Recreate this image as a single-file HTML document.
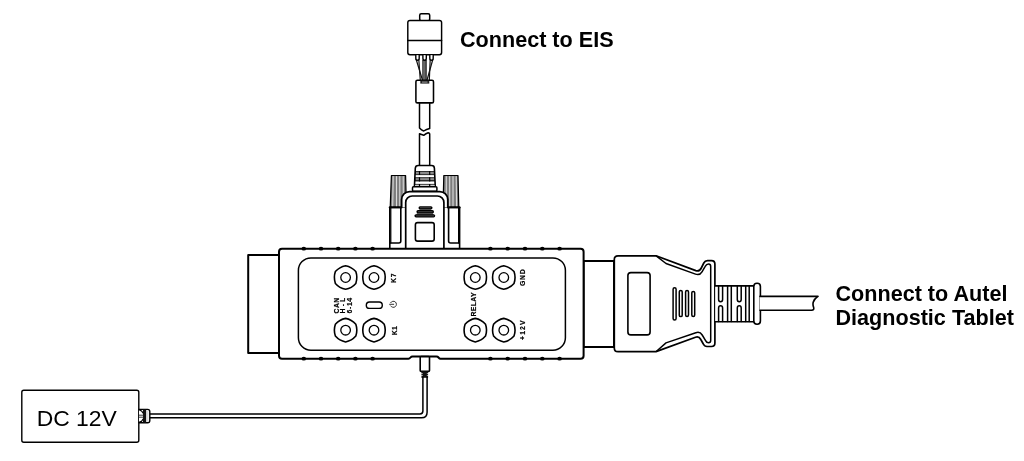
<!DOCTYPE html>
<html><head><meta charset="utf-8">
<style>
html,body{margin:0;padding:0;background:#fff;width:1024px;height:461px;overflow:hidden}
svg{display:block;will-change:transform}
text{font-family:"Liberation Sans",sans-serif}
</style></head>
<body>
<svg width="1024" height="461" viewBox="0 0 1024 461">
<g fill="none" stroke="#000" stroke-linejoin="round" stroke-linecap="round">

<!-- ===== EIS connector (top) ===== -->
<rect x="419.7" y="13.8" width="10" height="7" rx="1.5" stroke-width="1.5" fill="#fff"/>
<rect x="407.8" y="20.4" width="33.8" height="34.3" rx="2.2" stroke-width="1.45" fill="#fff"/>
<line x1="407.8" y1="40.5" x2="441.6" y2="40.5" stroke-width="1.45"/>
<!-- pins -->
<rect x="423.2" y="60" width="3" height="20.5" fill="#666" stroke="#000" stroke-width="0.9"/>
<g stroke-width="1.2" stroke="#111">
<path d="M416.2 59.5 L422.6 80.5"/><path d="M418.8 59.5 L420.3 80.5"/>
<path d="M432.8 59.5 L426.9 80.5"/><path d="M430.2 59.5 L429.3 80.5"/>
</g>
<g stroke-width="1.4" fill="#fff">
<path d="M415.8 55.2 V58.2 Q415.8 60.2 417.5 60.2 Q419.2 60.2 419.2 58.2 V55.2"/>
<path d="M422.9 55.2 V58.2 Q422.9 60.2 424.6 60.2 Q426.3 60.2 426.3 58.2 V55.2"/>
<path d="M429.8 55.2 V58.2 Q429.8 60.2 431.5 60.2 Q433.2 60.2 433.2 58.2 V55.2"/>
</g>
<!-- ferrule -->
<rect x="415.9" y="80.2" width="17.6" height="22.7" rx="1.5" stroke-width="1.55" fill="#fff"/>
<rect x="420.3" y="80.6" width="9" height="3" fill="#222" stroke="none"/><rect x="422" y="81.5" width="5.5" height="1.2" fill="#888" stroke="none"/>
<!-- cable with break -->
<path d="M419.5 102.7 V128 Q421.5 130.2 423.7 131 Q426.5 129 429.7 128.4 V102.7" stroke-width="1.5"/>
<path d="M419.5 166 V133.8 Q421.5 134.6 423.7 135.3 Q426 133.5 428.2 132.8 Q429.5 133 429.7 134 V166" stroke-width="1.5"/>

<!-- ===== DB9 boot ===== -->
<path d="M414.4 187 L415.3 168.2 Q415.5 165.5 418.2 165.5 H431.6 Q434.3 165.5 434.4 168.2 L435.3 187 Z" stroke-width="1.6" fill="#fff"/>
<g stroke="none">
<rect x="415.2" y="171.1" width="19.4" height="4" fill="#000"/>
<rect x="416" y="171.8" width="17.8" height="2.6" fill="#8a8a8a"/>
<rect x="414.9" y="177.3" width="20" height="4.1" fill="#000"/>
<rect x="415.7" y="178.1" width="18.4" height="2.2" fill="#8a8a8a"/>
<rect x="414.6" y="183.9" width="20.6" height="0.9" fill="#000"/>
<rect x="415.4" y="184.8" width="19" height="1.4" fill="#ccc"/>
</g>
<path d="M419.5 171.1 V175.1 M429.7 171.1 V175.1 M419.5 177.3 V181.4 M429.7 177.3 V181.4 M419.5 184 V186.7 M429.7 184 V186.7" stroke-width="1.2" stroke-linecap="butt"/>
<rect x="412.5" y="186.7" width="24.4" height="4.6" rx="1" stroke-width="1.5" fill="#fff"/>

<!-- thumb screws -->
<g>
<path d="M391.4 175.5 H405.6 L406.4 207.4 H390.2 Z" fill="#7c7c7c" stroke-width="1.2"/>
<path d="M393.2 176.5 L392.7 206.5 M396.5 176.5 V206.5 M399.8 176.5 V206.5 M403.2 176.5 L403.4 206.5" stroke="#dcdcdc" stroke-width="1.1"/>
<path d="M443.8 175.5 H458 L458.8 207.4 H443 Z" fill="#7c7c7c" stroke-width="1.2"/>
<path d="M446.3 176.5 V206.5 M449.7 176.5 V206.5 M453 176.5 V206.5 M456.2 176.5 L456.6 206.5" stroke="#dcdcdc" stroke-width="1.1"/>
<!-- shanks -->
<path d="M389.8 249 V207.4 H400.8 V241 Q400.8 243 398.8 243 H390.8" stroke-width="1.6" fill="#fff"/>
<path d="M390.8 207.4 V243" stroke-width="1.2"/>
<path d="M459.6 249 V207.4 H448.6 V241 Q448.6 243 450.6 243 H458.6" stroke-width="1.6" fill="#fff"/>
<path d="M458.6 207.4 V243" stroke-width="1.2"/>
<path d="M389.6 207.4 H401.2 M448.2 207.4 H459.8" stroke-width="1.8"/>
</g>
<!-- hood -->
<path d="M401.6 207.4 V199.6 A8 8 0 0 1 409.6 191.6 H439.8 A8 8 0 0 1 447.8 199.6 V207.4" stroke-width="1.8" fill="#fff"/>
<path d="M405.7 249 V202.5 A6.5 6.5 0 0 1 412.2 196 H437.4 A6.5 6.5 0 0 1 443.9 202.5 V249" stroke-width="1.7" fill="#fff"/>
<!-- slots -->
<g stroke="none">
<path d="M420.5 208 H430.5 L432.5 212 L434 216 H415.8 L417.4 212 Z" fill="#666"/>
<rect x="418.5" y="206.2" width="14" height="3" rx="1.5" fill="#000"/>
<rect x="416.4" y="210.1" width="17.6" height="3.2" rx="1.6" fill="#000"/>
<rect x="414.4" y="214.2" width="20.8" height="3.2" rx="1.6" fill="#000"/>
<rect x="420" y="207.4" width="11" height="0.8" fill="#555"/>
<rect x="418" y="211.4" width="14.5" height="0.8" fill="#555"/>
<rect x="416" y="215.5" width="18" height="0.8" fill="#555"/>
</g>
<rect x="415.4" y="222.6" width="18.8" height="18.5" rx="2.2" stroke-width="1.6"/>

<!-- ===== main module ===== -->
<rect x="248.2" y="254.9" width="31" height="98" stroke-width="2" fill="#fff"/>
<rect x="583.6" y="260.9" width="30.4" height="86" stroke-width="2" fill="#fff"/>
<path d="M279 352 V251.7 Q279 248.7 282 248.7 H580.6 Q583.6 248.7 583.6 251.7 V355.7 Q583.6 358.7 580.6 358.7 H440.5 Q439.5 358.7 438.5 357.5 Q437.7 356.5 436.5 356.5 H412.5 Q411.3 356.5 410.5 357.5 Q409.5 358.7 408.5 358.7 H282 Q279 358.7 279 355.7 Z" stroke-width="2" fill="#fff"/>
<!-- dots -->
<g fill="#000" stroke="none">
<ellipse cx="303.8" cy="248.7" rx="2.3" ry="1.9"/><ellipse cx="321" cy="248.7" rx="2.3" ry="1.9"/><ellipse cx="338.2" cy="248.7" rx="2.3" ry="1.9"/><ellipse cx="355.4" cy="248.7" rx="2.3" ry="1.9"/><ellipse cx="372.6" cy="248.7" rx="2.3" ry="1.9"/>
<ellipse cx="490.4" cy="248.7" rx="2.3" ry="1.9"/><ellipse cx="507.7" cy="248.7" rx="2.3" ry="1.9"/><ellipse cx="525" cy="248.7" rx="2.3" ry="1.9"/><ellipse cx="542.3" cy="248.7" rx="2.3" ry="1.9"/><ellipse cx="559.6" cy="248.7" rx="2.3" ry="1.9"/>
<ellipse cx="303.8" cy="358.7" rx="2.3" ry="1.9"/><ellipse cx="321" cy="358.7" rx="2.3" ry="1.9"/><ellipse cx="338.2" cy="358.7" rx="2.3" ry="1.9"/><ellipse cx="355.4" cy="358.7" rx="2.3" ry="1.9"/><ellipse cx="372.6" cy="358.7" rx="2.3" ry="1.9"/>
<ellipse cx="490.4" cy="358.7" rx="2.3" ry="1.9"/><ellipse cx="507.7" cy="358.7" rx="2.3" ry="1.9"/><ellipse cx="525" cy="358.7" rx="2.3" ry="1.9"/><ellipse cx="542.3" cy="358.7" rx="2.3" ry="1.9"/><ellipse cx="559.6" cy="358.7" rx="2.3" ry="1.9"/>
</g>
<!-- inner panel -->
<rect x="298.4" y="257.9" width="267" height="92.3" rx="12.5" stroke-width="1.5"/>

<!-- nuts -->

<g transform="translate(345.6,277.5)"><path d="M0.00 -11.80 A18 18 0 0 1 10.22 -5.90 A18 18 0 0 1 10.22 5.90 A18 18 0 0 1 0.00 11.80 A18 18 0 0 1 -10.22 5.90 A18 18 0 0 1 -10.22 -5.90 A18 18 0 0 1 0.00 -11.80 Z" stroke-width="1.6"/>
<circle r="4.8" stroke-width="1.3"/></g>
<g transform="translate(374,277.5)"><path d="M0.00 -11.80 A18 18 0 0 1 10.22 -5.90 A18 18 0 0 1 10.22 5.90 A18 18 0 0 1 0.00 11.80 A18 18 0 0 1 -10.22 5.90 A18 18 0 0 1 -10.22 -5.90 A18 18 0 0 1 0.00 -11.80 Z" stroke-width="1.6"/>
<circle r="4.8" stroke-width="1.3"/></g>
<g transform="translate(345.6,330.2)"><path d="M0.00 -11.80 A18 18 0 0 1 10.22 -5.90 A18 18 0 0 1 10.22 5.90 A18 18 0 0 1 0.00 11.80 A18 18 0 0 1 -10.22 5.90 A18 18 0 0 1 -10.22 -5.90 A18 18 0 0 1 0.00 -11.80 Z" stroke-width="1.6"/>
<circle r="4.8" stroke-width="1.3"/></g>
<g transform="translate(374,330.2)"><path d="M0.00 -11.80 A18 18 0 0 1 10.22 -5.90 A18 18 0 0 1 10.22 5.90 A18 18 0 0 1 0.00 11.80 A18 18 0 0 1 -10.22 5.90 A18 18 0 0 1 -10.22 -5.90 A18 18 0 0 1 0.00 -11.80 Z" stroke-width="1.6"/>
<circle r="4.8" stroke-width="1.3"/></g>
<g transform="translate(475.3,277.5)"><path d="M0.00 -11.80 A18 18 0 0 1 10.22 -5.90 A18 18 0 0 1 10.22 5.90 A18 18 0 0 1 0.00 11.80 A18 18 0 0 1 -10.22 5.90 A18 18 0 0 1 -10.22 -5.90 A18 18 0 0 1 0.00 -11.80 Z" stroke-width="1.6"/>
<circle r="4.8" stroke-width="1.3"/></g>
<g transform="translate(503.8,277.5)"><path d="M0.00 -11.80 A18 18 0 0 1 10.22 -5.90 A18 18 0 0 1 10.22 5.90 A18 18 0 0 1 0.00 11.80 A18 18 0 0 1 -10.22 5.90 A18 18 0 0 1 -10.22 -5.90 A18 18 0 0 1 0.00 -11.80 Z" stroke-width="1.6"/>
<circle r="4.8" stroke-width="1.3"/></g>
<g transform="translate(475.3,330.2)"><path d="M0.00 -11.80 A18 18 0 0 1 10.22 -5.90 A18 18 0 0 1 10.22 5.90 A18 18 0 0 1 0.00 11.80 A18 18 0 0 1 -10.22 5.90 A18 18 0 0 1 -10.22 -5.90 A18 18 0 0 1 0.00 -11.80 Z" stroke-width="1.6"/>
<circle r="4.8" stroke-width="1.3"/></g>
<g transform="translate(503.8,330.2)"><path d="M0.00 -11.80 A18 18 0 0 1 10.22 -5.90 A18 18 0 0 1 10.22 5.90 A18 18 0 0 1 0.00 11.80 A18 18 0 0 1 -10.22 5.90 A18 18 0 0 1 -10.22 -5.90 A18 18 0 0 1 0.00 -11.80 Z" stroke-width="1.6"/>
<circle r="4.8" stroke-width="1.3"/></g>

<!-- LED -->
<rect x="366.3" y="302" width="16" height="6.4" rx="3.2" stroke-width="1.4"/>
<!-- power symbol -->
<path d="M390.67 302.66 A3.1 3.1 0 1 1 390.67 305.94" stroke="#333" stroke-width="1"/>
<line x1="389.60" y1="304.3" x2="393.70" y2="304.3" stroke="#333" stroke-width="1"/>

<!-- DC grommet -->
<rect x="420.2" y="356.6" width="9.3" height="14.8" rx="1" stroke-width="1.6" fill="#fff"/>
<path d="M421.4 371.4 H428.1 V377.8 H421.4 Z" fill="#111" stroke="none"/><path d="M421 373.6 H422.4 M421 375.6 H422.4 M427.2 373.6 H428.6 M427.2 375.6 H428.6" stroke="#fff" stroke-width="0.7"/>
<!-- DC cable -->
<path d="M422.9 377 V411 Q422.9 413.9 420 413.9 H149" stroke-width="1.5"/>
<path d="M427.1 377 V412.2 Q427.1 417.8 421.5 417.8 H149" stroke-width="1.5"/>
<!-- DC box -->
<rect x="21.8" y="390.3" width="117" height="52" rx="2" stroke-width="1.4" fill="#fff"/>
<g>
<path d="M139 409.4 H147.6 Q149.8 409.4 149.8 411.6 V420.6 Q149.8 422.8 147.6 422.8 H139" stroke-width="1.4" fill="#fff"/>
<rect x="143" y="409.4" width="3.2" height="13.4" fill="#111" stroke="none"/>
<rect x="146.9" y="410.6" width="1.6" height="11" fill="#ddd" stroke="none"/>
<path d="M139.4 410 Q142 410.5 143 413 M139.4 422.2 Q142 421.7 143 419.2" stroke-width="1.2"/>
<path d="M139.4 415.2 H143 M139.4 417.2 H143" stroke-width="1" stroke="#333"/>
</g>

<!-- ===== OBD connector ===== -->
<path d="M656 255.8 H618 Q614.3 255.8 614.3 259.5 V347.9 Q614.3 351.6 618 351.6 H656 L695.5 337.2 Q699 336 700.8 339.5 L703.3 344 Q704.5 346.5 707 346.5 H711.5 Q714.9 346.5 714.9 343 V264 Q714.9 260.6 711.5 260.6 H707.5 Q705 260.6 703.8 263 L701.3 268 Q699.5 271.8 695.8 270.6 Z" stroke-width="1.7" fill="#fff"/>
<path d="M656.5 256.2 L666 263.5 L695.5 274.1 Q699.8 275.6 702 271.8 L705.2 266.3 Q706.4 264 708.6 264 Q710.7 264 710.7 266.5 V340.5 Q710.7 342.7 708.6 342.7 Q706.6 342.7 705.6 340.6 L702.2 335 Q700 331.3 695.8 332.7 L666 342.9 L656.5 351.2" stroke-width="1.5"/>
<rect x="627.9" y="272.6" width="22.2" height="62.3" rx="3" stroke-width="1.6"/>
<g stroke-width="1.5">
<rect x="673.1" y="287.8" width="3" height="32.2" rx="1.5"/>
<rect x="679.3" y="290.4" width="2.9" height="26.2" rx="1.45"/>
<rect x="685.6" y="290.6" width="2.9" height="25.8" rx="1.45"/>
<rect x="691.8" y="291.4" width="2.9" height="25" rx="1.45"/>
</g>
<!-- strain relief -->
<g stroke-width="1.5">
<path d="M715.2 285.9 H754 V321.7 H715.2" fill="#fff" stroke-width="1.6"/>
<path d="M718.6 286 V299.6 Q718.6 301.8 720.6 301.8 Q722.6 301.8 722.6 299.6 V286"/><path d="M718.6 321.6 V308 Q718.6 305.8 720.6 305.8 Q722.6 305.8 722.6 308 V321.6"/><path d="M737.3 286 V299.6 Q737.3 301.8 739.25 301.8 Q741.2 301.8 741.2 299.6 V286"/><path d="M737.3 321.6 V308 Q737.3 305.8 739.25 305.8 Q741.2 305.8 741.2 308 V321.6"/>
<path d="M727.6 286 V321.6 M731.3 286 V321.6 M745.7 286 V321.6 M749.2 286 V321.6" stroke-width="1.5"/>
<rect x="753.8" y="283.3" width="6.6" height="40.9" rx="3.2" fill="#fff" stroke-width="1.6"/>
</g>
<!-- cable -->
<path d="M760 296.4 H818 Q814.2 298.8 813.2 302.2 Q812.6 304.8 813.6 307.2 Q814.4 310.3 811.6 310.3 H760" stroke-width="1.6" fill="#fff"/>
</g>

<!-- ===== labels ===== -->
<g font-family="Liberation Sans, sans-serif" fill="#000">
<text x="460" y="47.3" font-size="21.6" font-weight="bold">Connect to EIS</text>
<text x="835.5" y="300.5" font-size="21.6" font-weight="bold">Connect to Autel</text>
<text x="835.5" y="324.6" font-size="21.6" font-weight="bold">Diagnostic Tablet</text>
<text x="36.7" y="426.2" font-size="22.9">DC 12V</text>
<g font-size="6.9" font-weight="bold" stroke="#000" stroke-width="0.18">
<text transform="translate(338.9,305.6) rotate(-90)" text-anchor="middle" textLength="15.6" lengthAdjust="spacing">CAN</text>
<text transform="translate(345.4,305.6) rotate(-90)" text-anchor="middle" textLength="15.6" lengthAdjust="spacing">H-L</text>
<text transform="translate(351.9,305.6) rotate(-90)" text-anchor="middle" textLength="15.6" lengthAdjust="spacing">6-14</text>
<text transform="translate(396.3,278.2) rotate(-90)" text-anchor="middle" textLength="9.6" lengthAdjust="spacing">K7</text>
<text transform="translate(396.5,330.7) rotate(-90)" text-anchor="middle" textLength="9.3" lengthAdjust="spacing">K1</text>
<text transform="translate(475.8,304.5) rotate(-90)" text-anchor="middle" textLength="24" lengthAdjust="spacing">RELAY</text>
<text transform="translate(525.4,277.6) rotate(-90)" text-anchor="middle" textLength="16.8" lengthAdjust="spacing">GND</text>
<text transform="translate(525.1,330.2) rotate(-90)" text-anchor="middle" textLength="19.4" lengthAdjust="spacing">+12V</text>
</g>
</g>
</svg>
</body></html>
